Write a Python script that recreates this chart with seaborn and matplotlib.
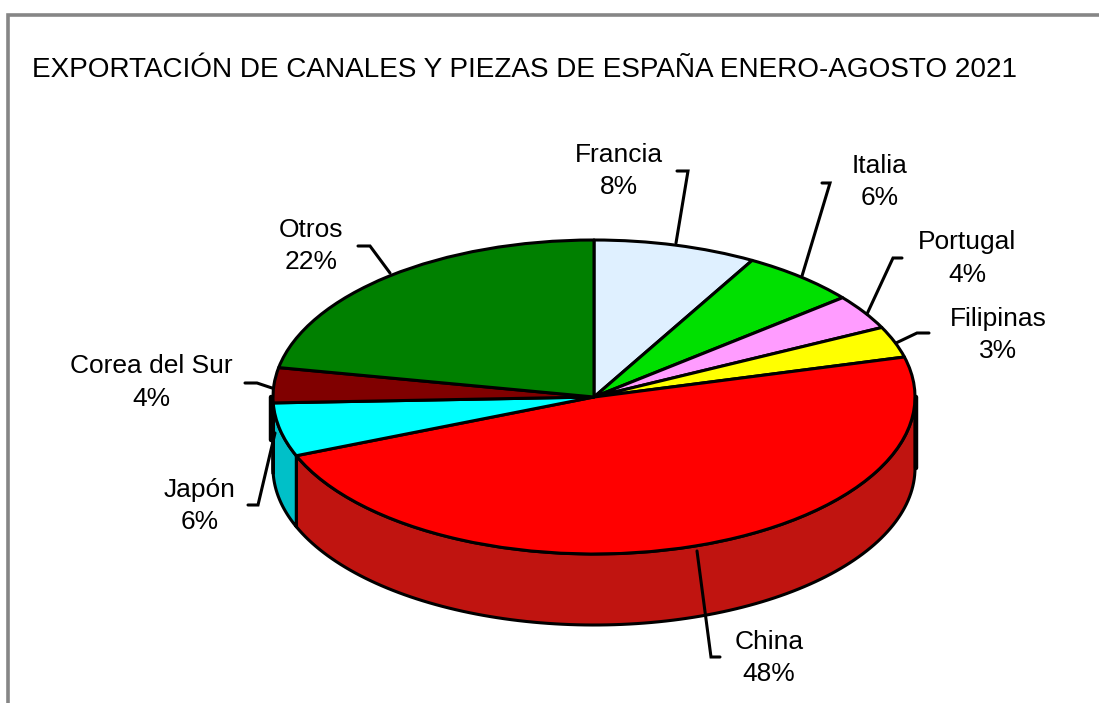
import numpy as np
import seaborn as sns
import matplotlib
matplotlib.use("Agg")
import matplotlib.pyplot as plt
from matplotlib.lines import Line2D
from matplotlib.patches import Polygon

title = "EXPORTACIÓN DE CANALES Y PIEZAS DE ESPAÑA ENERO-AGOSTO 2021"
countries = ["Francia", "Italia", "Portugal", "Filipinas", "China", "Japón", "Corea del Sur", "Otros"]
shares = [8.2, 5.9, 3.6, 3.2, 48.0, 5.5, 3.6, 22.0]
pct_labels = ["8%", "6%", "4%", "3%", "48%", "6%", "4%", "22%"]
top_colors = ["#DFF0FF", "#00E000", "#FF9CFF", "#FFFF00", "#FF0000", "#00FFFF", "#800000", "#008000"]
side_colors = ["#B8C6D2", "#00B800", "#D080D0", "#D0D000", "#C01410", "#00C0C8", "#600000", "#006000"]

# layout, in reference pixels
W, H = 1099, 703
CX, CY, RX, RY, DEPTH = 594, 397, 321, 157, 71
label_xy = [(619, 171), (880, 182), (967, 258.5), (998, 335), (769, 658), (200, 506), (151, 382.5), (311, 246)]
leaders = [
    [(676, 243), (688, 171), (677, 171)],
    [(802, 276), (830, 183), (822, 183)],
    [(867, 314), (893, 258), (902, 258)],
    [(896, 343), (917, 333), (929, 333)],
    [(697, 551), (711, 657), (720, 657)],
    [(275, 433), (258, 505), (248, 505)],
    [(272, 388), (257, 383), (245, 383)],
    [(390, 273), (370, 246), (358, 246)],
]

sns.set_theme(style="white")
plt.rcParams["font.family"] = ["Liberation Sans", "DejaVu Sans"]

fig = plt.figure(figsize=(W / 100, H / 100), dpi=100, facecolor="white")
ax = fig.add_axes([0, 0, 1, 1], facecolor="white")

# unit-circle pie, squashed through the axis limits
ax.pie(shares, colors=top_colors, startangle=90, counterclock=False, radius=1,
       wedgeprops=dict(edgecolor="black", linewidth=2.2, joinstyle="round"), normalize=True,
       frame=False)
ax.set_aspect("auto")
ax.set_xlim(-CX / RX, (W - CX) / RX)
ax.set_ylim((CY - H) / RY, CY / RY)
ax.axis("off")

# extruded rim (front half of the ellipse only)
d = DEPTH / RY
bounds = np.cumsum([0] + shares) / sum(shares) * 360
for a0, a1, col in zip(bounds[:-1], bounds[1:], side_colors):
    lo, hi = max(a0, 90), min(a1, 270)
    if hi <= lo:
        continue
    t = np.radians(np.linspace(lo, hi, 120))
    xs, ys = np.sin(t), np.cos(t)
    pts = np.r_[np.c_[xs, ys], np.c_[xs[::-1], ys[::-1] - d]]
    ax.add_patch(Polygon(pts, closed=True, facecolor=col, edgecolor="black",
                         linewidth=2.2, joinstyle="round", zorder=0.5))

def px(x, y):
    return x / W, 1 - y / H

# chart frame
fig.add_artist(Line2D([px(8, 0)[0], px(8, 0)[0], 1], [0, px(0, 15)[1], px(0, 15)[1]],
                      color="#868686", linewidth=2.6, solid_joinstyle="miter"))

fig.text(*px(524, 70), title, fontsize=20.1, color="black", ha="center", va="center")

for name, pct, (lx, ly), path in zip(countries, pct_labels, label_xy, leaders):
    fig.text(*px(lx, ly), f"{name}\n{pct}", fontsize=19, color="black", ha="center",
             va="center", linespacing=1.44)
    xs, ys = zip(*[px(*p) for p in path])
    fig.add_artist(Line2D(xs, ys, color="black", linewidth=2.2, solid_joinstyle="miter"))

# tangent edges of the rim
for x, y0, y1 in [(CX + RX + 1, CY, CY + DEPTH), (CX - RX - 2, CY, CY + 43)]:
    xs, ys = zip(px(x, y0), px(x, y1))
    fig.add_artist(Line2D(xs, ys, color="black", linewidth=3.2))

fig.savefig("out.png", dpi=100)
